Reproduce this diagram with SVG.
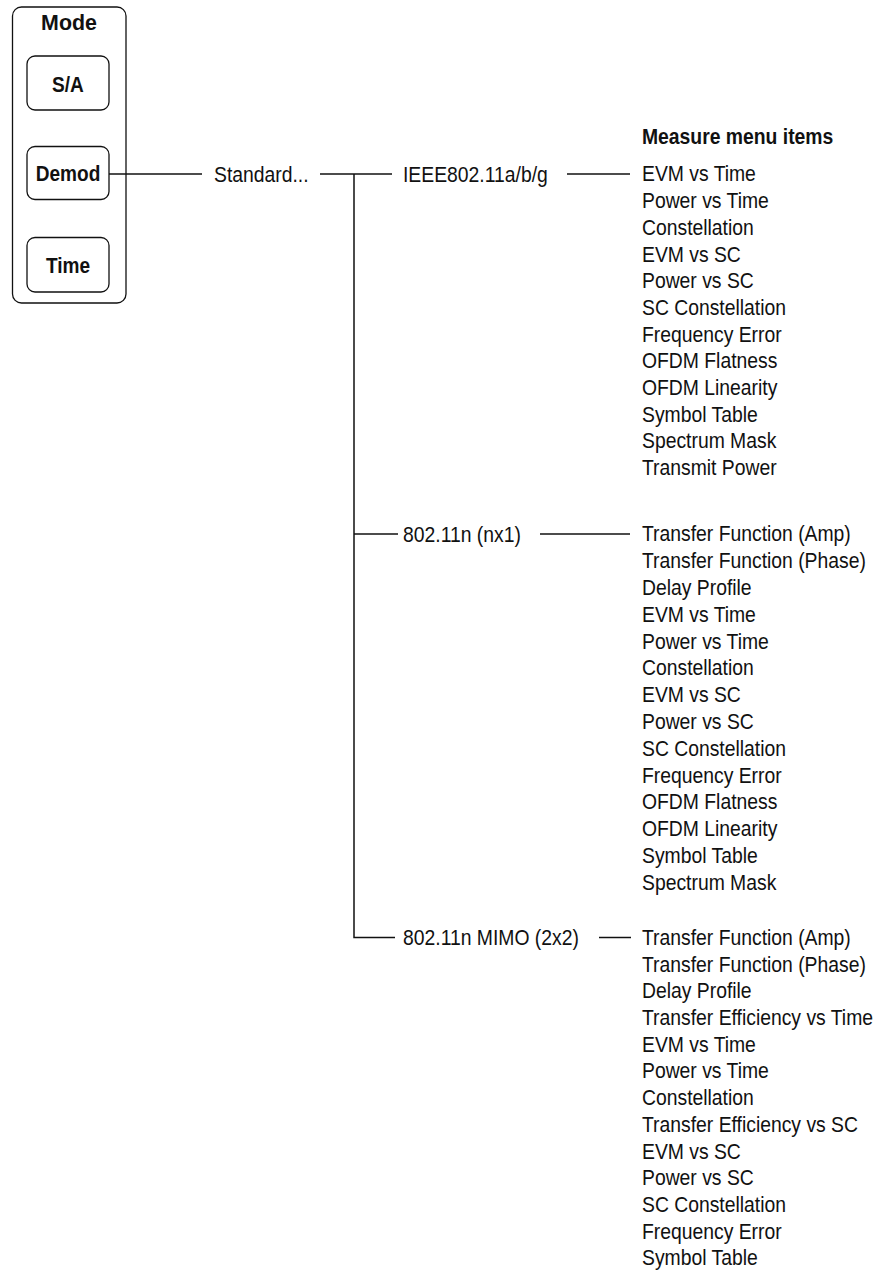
<svg xmlns="http://www.w3.org/2000/svg" width="885" height="1272" viewBox="0 0 885 1272">
<style>
.t{font-family:"Liberation Sans",Arial,sans-serif;font-size:21.5px;fill:#111}
.b{font-family:"Liberation Sans",Arial,sans-serif;font-size:21.5px;font-weight:bold;fill:#111}
.box{fill:none;stroke:#111;stroke-width:1.3}
.ln{fill:none;stroke:#111;stroke-width:1.5}
</style>
<rect width="885" height="1272" fill="#fff"/>
<g id="mode-panel">
<rect class="box" x="12.5" y="7" width="113.5" height="296" rx="9"/>
<text class="b" transform="translate(69 29.5) scale(0.93 1)" text-anchor="middle" style="font-size:23px">Mode</text>
</g>
<g id="btn-sa">
<rect class="box" x="27" y="56" width="82" height="54" rx="8"/>
<text class="b" transform="translate(68 91.5) scale(0.887 1)" text-anchor="middle">S/A</text>
</g>
<g id="btn-demod">
<rect class="box" x="27" y="146.5" width="82" height="53" rx="8"/>
<text class="b" transform="translate(68 181) scale(0.887 1)" text-anchor="middle">Demod</text>
</g>
<g id="btn-time">
<rect class="box" x="27" y="237.5" width="82" height="54.5" rx="8"/>
<text class="b" transform="translate(68 272.5) scale(0.887 1)" text-anchor="middle">Time</text>
</g>
<g id="connectors">
<path class="ln" d="M109 174H202"/>
<path class="ln" d="M320 174H392"/>
<path class="ln" d="M354 174V937.5H395"/>
<path class="ln" d="M354 534H398"/>
<path class="ln" d="M567 174H630"/>
<path class="ln" d="M540 534H630"/>
<path class="ln" d="M599 937.5H631"/>
</g>
<g id="standard"><text class="t" transform="translate(214 181.5) scale(0.9 1)">Standard...</text></g>
<g id="ieee"><text class="t" transform="translate(403 181.5) scale(0.9 1)">IEEE802.11a/b/g</text></g>
<g id="nx1"><text class="t" transform="translate(403 541.5) scale(0.9 1)">802.11n (nx1)</text></g>
<g id="mimo"><text class="t" transform="translate(403 945) scale(0.9 1)">802.11n MIMO (2x2)</text></g>
<g id="measure-header"><text class="b" transform="translate(642 144) scale(0.9 1)">Measure menu items</text></g>
<g id="list-ieee" transform="translate(642 0) scale(0.9 1)">
<text class="t" y="181.5">EVM vs Time</text>
<text class="t" y="208.2">Power vs Time</text>
<text class="t" y="234.9">Constellation</text>
<text class="t" y="261.6">EVM vs SC</text>
<text class="t" y="288.3">Power vs SC</text>
<text class="t" y="315">SC Constellation</text>
<text class="t" y="341.7">Frequency Error</text>
<text class="t" y="368.4">OFDM Flatness</text>
<text class="t" y="395.1">OFDM Linearity</text>
<text class="t" y="421.8">Symbol Table</text>
<text class="t" y="448.5">Spectrum Mask</text>
<text class="t" y="475.2">Transmit Power</text>
</g>
<g id="list-nx1" transform="translate(642 0) scale(0.9 1)">
<text class="t" y="541.5">Transfer Function (Amp)</text>
<text class="t" y="568.3">Transfer Function (Phase)</text>
<text class="t" y="595.1">Delay Profile</text>
<text class="t" y="621.9">EVM vs Time</text>
<text class="t" y="648.7">Power vs Time</text>
<text class="t" y="675.5">Constellation</text>
<text class="t" y="702.3">EVM vs SC</text>
<text class="t" y="729.1">Power vs SC</text>
<text class="t" y="755.9">SC Constellation</text>
<text class="t" y="782.7">Frequency Error</text>
<text class="t" y="809.5">OFDM Flatness</text>
<text class="t" y="836.3">OFDM Linearity</text>
<text class="t" y="863.1">Symbol Table</text>
<text class="t" y="889.9">Spectrum Mask</text>
</g>
<g id="list-mimo" transform="translate(642 0) scale(0.9 1)">
<text class="t" y="945">Transfer Function (Amp)</text>
<text class="t" y="971.7">Transfer Function (Phase)</text>
<text class="t" y="998.4">Delay Profile</text>
<text class="t" y="1025.1">Transfer Efficiency vs Time</text>
<text class="t" y="1051.8">EVM vs Time</text>
<text class="t" y="1078.5">Power vs Time</text>
<text class="t" y="1105.2">Constellation</text>
<text class="t" y="1131.9">Transfer Efficiency vs SC</text>
<text class="t" y="1158.6">EVM vs SC</text>
<text class="t" y="1185.3">Power vs SC</text>
<text class="t" y="1212">SC Constellation</text>
<text class="t" y="1238.7">Frequency Error</text>
<text class="t" y="1265.4">Symbol Table</text>
</g>
</svg>
